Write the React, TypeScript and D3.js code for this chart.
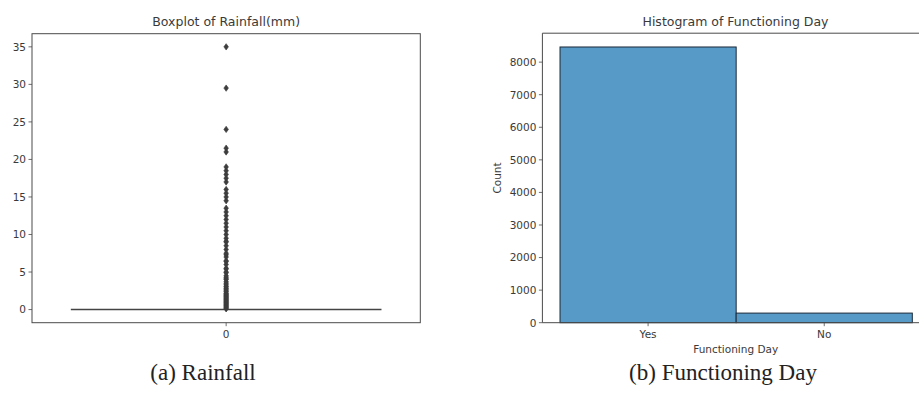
import React from "react";
import * as d3 from "d3";

// ---- Data ----
const rainfallOutliers: number[] = [
  0.1, 0.2, 0.3, 0.4, 0.5, 0.6, 0.7, 0.8, 0.9, 1.0, 1.1, 1.2, 1.3, 1.4, 1.5,
  1.6, 1.7, 1.8, 1.9, 2.0, 2.1, 2.2, 2.4, 2.5, 2.7, 2.8, 3.0, 3.1, 3.3, 3.5,
  3.7, 4.0, 4.1, 4.3, 4.5, 4.9, 5.0, 5.4, 5.5, 6.0, 6.4, 6.5, 7.0, 7.3, 7.5,
  8.0, 8.5, 9.0, 9.1, 9.5, 10.0, 10.5, 11.0, 11.5, 12.0, 12.5, 13.0, 13.5,
  14.5, 15.0, 15.5, 16.0, 17.0, 17.5, 18.0, 18.5, 19.0, 21.0, 21.5, 24.0,
  29.5, 35.0,
];
const rainfallStats = { q1: 0, median: 0, q3: 0, whiskerLow: 0, whiskerHigh: 0 };
const rainfallTicks: number[] = [0, 5, 10, 15, 20, 25, 30, 35];
const boxCategory = "0";

const dayCategories: string[] = ["Yes", "No"];
const dayCounts: number[] = [8465, 295];
const countTicks: number[] = [0, 1000, 2000, 3000, 4000, 5000, 6000, 7000, 8000];

const FONT = "DejaVu Sans, sans-serif";
const TXT = "#3a3a3a";
const SPINE = "#4a4a4a";

export default function App() {
  // Left panel
  const L = { left: 32, right: 420.3, top: 33.7, bottom: 322.7 };
  const maxR = d3.max(rainfallOutliers) as number;
  const yL = d3.scaleLinear().domain([-0.05 * maxR, maxR * 1.05]).range([L.bottom, L.top]);
  const xL = d3.scaleLinear().domain([-0.5, 0.5]).range([L.left, L.right]);
  const boxW = 0.8;

  // Right panel
  const R = { left: 542.4, top: 33.2, bottom: 322.7 };
  const maxC = d3.max(dayCounts) as number;
  const yR = d3.scaleLinear().domain([0, maxC * 1.05]).range([R.bottom, R.top]);
  const xR = d3.scaleLinear().domain([-0.6, 1.6]).range([R.left, R.left + 2.2 * 176.15]);
  const rightEdge = xR(1.6);

  const diamond = (cx: number, cy: number) =>
    `M${cx},${cy - 3.2}L${cx + 2.3},${cy}L${cx},${cy + 3.2}L${cx - 2.3},${cy}Z`;

  return (
    <svg
      width={919}
      height={407}
      style={{ position: "absolute", left: 0, top: 0, background: "#fff", display: "block" }}
    >
      <rect x={0} y={0} width={919} height={407} fill="#fff" />

      {/* ===== Left: Boxplot ===== */}
      <text x={(L.left + L.right) / 2} y={26} textAnchor="middle" fontFamily={FONT} fontSize={12.5} fill={TXT}>
        Boxplot of Rainfall(mm)
      </text>
      {/* box (degenerate) */}
      <line
        x1={xL(-boxW / 2)}
        x2={xL(boxW / 2)}
        y1={yL(rainfallStats.median)}
        y2={yL(rainfallStats.median)}
        stroke="#444"
        strokeWidth={1.6}
      />
      <rect
        x={xL(-boxW / 2)}
        width={xL(boxW / 2) - xL(-boxW / 2)}
        y={yL(rainfallStats.q3)}
        height={yL(rainfallStats.q1) - yL(rainfallStats.q3)}
        fill="none"
        stroke="#444"
        strokeWidth={1.2}
      />
      {rainfallOutliers.map((v, i) => (
        <path key={i} d={diamond(xL(0), yL(v))} fill="#3d3d3d" stroke="#3d3d3d" strokeWidth={0.6} />
      ))}
      {/* spines */}
      <rect x={L.left} y={L.top} width={L.right - L.left} height={L.bottom - L.top} fill="none" stroke={SPINE} strokeWidth={1} />
      {rainfallTicks.map((t) => (
        <g key={t}>
          <line x1={L.left - 3.5} x2={L.left} y1={yL(t)} y2={yL(t)} stroke={SPINE} strokeWidth={0.8} />
          <text x={L.left - 6} y={yL(t) + 3.8} textAnchor="end" fontFamily={FONT} fontSize={10.5} fill={TXT}>
            {t}
          </text>
        </g>
      ))}
      <line x1={xL(0)} x2={xL(0)} y1={L.bottom} y2={L.bottom + 3.5} stroke={SPINE} strokeWidth={0.8} />
      <text x={xL(0)} y={L.bottom + 15} textAnchor="middle" fontFamily={FONT} fontSize={10.5} fill={TXT}>
        {boxCategory}
      </text>

      {/* ===== Right: Histogram ===== */}
      <text x={735.5} y={26} textAnchor="middle" fontFamily={FONT} fontSize={12.5} fill={TXT}>
        Histogram of Functioning Day
      </text>
      {dayCounts.map((c, i) => (
        <rect
          key={i}
          x={xR(i - 0.5)}
          width={xR(i + 0.5) - xR(i - 0.5)}
          y={yR(c)}
          height={yR(0) - yR(c)}
          fill="#5799c7"
          stroke="#1b2a38"
          strokeWidth={1}
        />
      ))}
      <line x1={R.left} x2={rightEdge} y1={R.top} y2={R.top} stroke={SPINE} strokeWidth={1} />
      <line x1={R.left} x2={rightEdge} y1={R.bottom} y2={R.bottom} stroke={SPINE} strokeWidth={1} />
      <line x1={R.left} x2={R.left} y1={R.top} y2={R.bottom} stroke={SPINE} strokeWidth={1} />
      <line x1={rightEdge} x2={rightEdge} y1={R.top} y2={R.bottom} stroke={SPINE} strokeWidth={1} />
      {countTicks.map((t) => (
        <g key={t}>
          <line x1={R.left - 3.5} x2={R.left} y1={yR(t)} y2={yR(t)} stroke={SPINE} strokeWidth={0.8} />
          <text x={R.left - 6} y={yR(t) + 3.8} textAnchor="end" fontFamily={FONT} fontSize={10.5} fill={TXT}>
            {t}
          </text>
        </g>
      ))}
      {dayCategories.map((c, i) => (
        <g key={c}>
          <line x1={xR(i)} x2={xR(i)} y1={R.bottom} y2={R.bottom + 3.5} stroke={SPINE} strokeWidth={0.8} />
          <text x={xR(i)} y={R.bottom + 15} textAnchor="middle" fontFamily={FONT} fontSize={10.5} fill={TXT}>
            {c}
          </text>
        </g>
      ))}
      <text x={735.7} y={353} textAnchor="middle" fontFamily={FONT} fontSize={10.5} fill={TXT}>
        Functioning Day
      </text>
      <text
        transform={`translate(500.5,178) rotate(-90)`}
        textAnchor="middle"
        fontFamily={FONT}
        fontSize={10.5}
        fill={TXT}
      >
        Count
      </text>

      {/* ===== Captions ===== */}
      <text x={203} y={380} textAnchor="middle" fontFamily="Liberation Serif, serif" fontSize={23} fill="#222">
        (a) Rainfall
      </text>
      <text x={723} y={380} textAnchor="middle" fontFamily="Liberation Serif, serif" fontSize={23} fill="#222">
        (b) Functioning Day
      </text>
    </svg>
  );
}
